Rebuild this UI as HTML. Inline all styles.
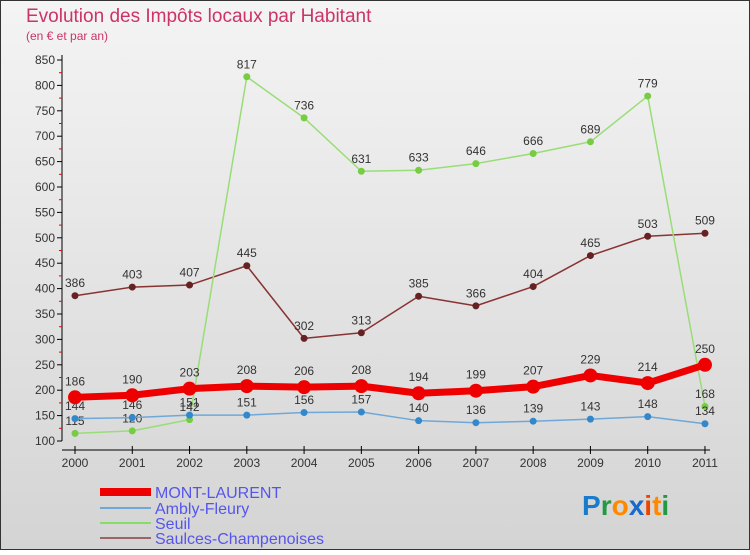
<!DOCTYPE html>
<html><head><meta charset="utf-8"><style>
body{margin:0;width:750px;height:550px;overflow:hidden;font-family:"Liberation Sans",sans-serif}
svg text{font-family:"Liberation Sans",sans-serif}
</style></head><body>
<svg id="c" width="750" height="550" xmlns="http://www.w3.org/2000/svg">
<defs><linearGradient id="bg" x1="0" y1="0" x2="0" y2="1"><stop offset="0" stop-color="#f4f4f4"/><stop offset="1" stop-color="#d4d4d4"/></linearGradient></defs>
<rect x="0.5" y="0.5" width="749" height="549" fill="url(#bg)" stroke="#333"/>
<text x="26" y="22" font-size="19" fill="#cc3366">Evolution des Impôts locaux par Habitant</text>
<text x="26" y="40" font-size="12" fill="#cc3366">(en € et par an)</text>
<g id="axes"></g><g id="series"></g>
<g>
<rect x="100" y="488" width="51" height="8" fill="#e00"/>
<text x="155" y="498" font-size="16" fill="#5555ee">MONT-LAURENT</text>
<line x1="100" y1="508" x2="151" y2="508" stroke="#6fa8d8" stroke-width="2"/>
<text x="155" y="514" font-size="16" fill="#5555ee">Ambly-Fleury</text>
<line x1="100" y1="523" x2="151" y2="523" stroke="#88dd66" stroke-width="2"/>
<text x="155" y="529" font-size="16" fill="#5555ee">Seuil</text>
<line x1="100" y1="538" x2="151" y2="538" stroke="#996666" stroke-width="2"/>
<text x="155" y="544" font-size="16" fill="#5555ee">Saulces-Champenoises</text>
</g>
<text x="582" y="515" font-size="28" font-weight="bold"><tspan fill="#1a7acc">P</tspan><tspan fill="#229944">r</tspan><tspan fill="#ff8800">o</tspan><tspan fill="#1a6acc">x</tspan><tspan fill="#ee4400">i</tspan><tspan fill="#ff8800">t</tspan><tspan fill="#229944">i</tspan></text>
</svg>
<script>
const years=[2000,2001,2002,2003,2004,2005,2006,2007,2008,2009,2010,2011];
const yTicks=[100,150,200,250,300,350,400,450,500,550,600,650,700,750,800,850];
const montLaurent=[186,190,203,208,206,208,194,199,207,229,214,250];
const amblyFleury=[144,146,151,151,156,157,140,136,139,143,148,134];
const seuil=[115,120,142,817,736,631,633,646,666,689,779,168];
const saulces=[386,403,407,445,302,313,385,366,404,465,503,509];
const NS="http://www.w3.org/2000/svg";
function X(i){return 75+i*57.27;}
function Y(v){return 441-(v-100)*0.508;}
function mk(tag,attrs,parent){const e=document.createElementNS(NS,tag);for(const k in attrs)e.setAttribute(k,attrs[k]);parent.appendChild(e);return e;}
const ax=document.getElementById('axes');
const yl=mk('line',{x1:62,y1:55,x2:62,y2:441,stroke:'#000'},ax);


const xl=mk('line',{x1:62,y1:450,x2:710,y2:450,stroke:'#000'},ax);


yTicks.forEach((v,i)=>{
  mk('line',{x1:57,y1:Y(v),x2:62,y2:Y(v),stroke:'#000'},ax);
  if(i<yTicks.length-1)mk('line',{x1:59,y1:Y(v+25),x2:62,y2:Y(v+25),stroke:'#e00'},ax);
  const t=mk('text',{x:55,y:Y(v)+4,'font-size':12,fill:'#333','text-anchor':'end'},ax);
  t.textContent=v;
  
  
});
years.forEach((y,i)=>{
  mk('line',{x1:X(i),y1:446,x2:X(i),y2:454,stroke:'#000'},ax);
  const t=mk('text',{x:X(i),y:467,'font-size':12,fill:'#333','text-anchor':'middle'},ax);
  t.textContent=y;
  
  
});
const sg=document.getElementById('series');
function series(vals,color,lw,r,name,dot){
  const g=mk('g',{},sg);
  
  
  mk('polyline',{points:vals.map((v,i)=>X(i)+','+Y(v)).join(' '),fill:'none',stroke:color,'stroke-width':lw,'stroke-linejoin':'round'},g);
  vals.forEach((v,i)=>{
    const c=mk('circle',{cx:X(i),cy:Y(v),r:r,fill:dot},g);
    
    
    const t=mk('text',{x:X(i),y:Y(v)-r-5,'font-size':12,fill:'#333','text-anchor':'middle'},g);
    t.textContent=v;
    
    
  });
}
series(saulces,'#883333',1.5,3.5,'saulces','#662222');
series(seuil,'#99dd77',1.5,3.5,'seuil','#77cc44');
series(amblyFleury,'#6fa8d8',1.5,3.5,'ambly-fleury','#3388cc');
series(montLaurent,'#ee0000',7,7,'mont-laurent','#ee0000');
</script>
</body></html>
